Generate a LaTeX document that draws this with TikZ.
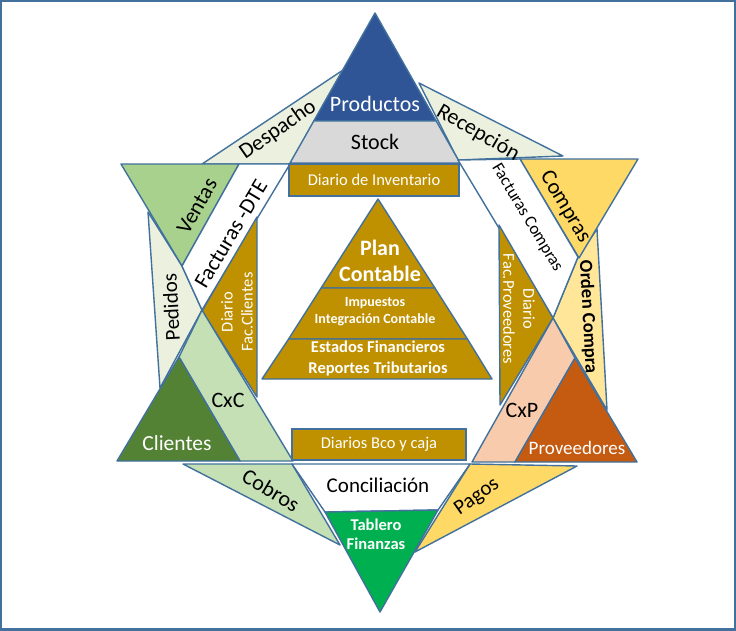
\documentclass[tikz,border=0pt]{standalone}
\usepackage{fontspec}
\setmainfont{Carlito}
\usepackage{xcolor}
\definecolor{edge}{HTML}{41719C}
\definecolor{prodblue}{HTML}{2F5597}
\definecolor{stockgray}{HTML}{D9D9D9}
\definecolor{gold}{HTML}{BF9000}
\definecolor{paleband}{HTML}{EBF1DE}
\definecolor{ventasgreen}{HTML}{A9D18E}
\definecolor{cxcgreen}{HTML}{C5E0B4}
\definecolor{clientgreen}{HTML}{548235}
\definecolor{buyyellow}{HTML}{FFD966}
\definecolor{orderyellow}{HTML}{FFE699}
\definecolor{cxppeach}{HTML}{F8CBAD}
\definecolor{provorange}{HTML}{C55A11}
\definecolor{dashgreen}{HTML}{00B050}

\begin{document}
\begin{tikzpicture}[
    x=1pt, y=-1pt,
    part/.style={draw=edge, line width=1.4pt, line join=round, fill=#1},
    journal/.style={draw=edge, line width=1.4pt, fill=gold, text=white,
                    font=\fontsize{16.5}{20}\selectfont, inner sep=0pt},
    lbl/.style={font=\fontsize{22}{26}\selectfont, inner sep=0pt},
    sublbl/.style={font=\fontsize{16.5}{20}\selectfont, inner sep=0pt, align=center},
    heavy/.style 2 args={font=\fontsize{#1}{#2}\selectfont\bfseries, inner sep=0pt,
                  align=center, text=white}
]
\useasboundingbox (0,0) rectangle (736,630);

% Frame
\fill[white] (0,0) rectangle (736,630);
\draw[edge, line width=4pt] (0,0) rectangle (736,630);

% Top: Productos / Stock
\filldraw[part=paleband] (343,70) -- (202,164) -- (290,164) -- cycle;
\filldraw[part=paleband] (419,83) -- (563,156) -- (458,160) -- cycle;
\filldraw[part=prodblue] (375,13) -- (313.8,121) -- (436.2,121) -- cycle;
\filldraw[part=stockgray] (313.8,121) -- (436.2,121) -- (460,163) -- (290,163) -- cycle;

% Left: Ventas / Clientes
\filldraw[part=paleband] (148,212) -- (160,388) -- (202,310) -- (182,266) -- cycle;
\filldraw[part=ventasgreen] (121,164) -- (239,164) -- (182,266) -- cycle;
\filldraw[part=white] (239,164) -- (290,164) -- (202,310) -- (182,266) -- cycle;
\filldraw[part=gold] (257,217) -- (202,311) -- (257,397) -- cycle;
\filldraw[part=cxcgreen] (202,310) -- (179,357) -- (240,461) -- (293,461) -- cycle;
\filldraw[part=clientgreen] (117,461) -- (240,461) -- (179,357) -- cycle;

% Right: Compras / Proveedores
\filldraw[part=orderyellow] (578,257) -- (597,229) -- (607,410) -- (553,318) -- cycle;
\filldraw[part=buyyellow] (520,159) -- (638,159) -- (579,258) -- cycle;
\filldraw[part=white] (458,160) -- (520,159) -- (578,257) -- (553,318) -- cycle;
\filldraw[part=gold] (499,225) -- (553,318) -- (500,405) -- cycle;
\filldraw[part=cxppeach] (553,318) -- (472,462) -- (515,462) -- (575,358) -- cycle;
\filldraw[part=provorange] (515,462) -- (637,462) -- (575,358) -- cycle;

% Bottom: Tablero Finanzas
\filldraw[part=cxcgreen] (183,464) -- (292,464) -- (340,545) -- cycle;
\filldraw[part=buyyellow] (470,464) -- (577,466) -- (415,552) -- cycle;
\filldraw[part=white] (292,464) -- (470,464) -- (438,510) -- (325,512) -- cycle;
\filldraw[part=dashgreen] (325,512) -- (438,510) -- (380,612) -- cycle;

% Center: Plan Contable
\filldraw[part=gold] (378,199) -- (321.1,288) -- (434.9,288) -- cycle;
\filldraw[part=gold] (321.1,288) -- (434.9,288) -- (467.4,339) -- (288.6,339) -- cycle;
\filldraw[part=gold] (288.6,339) -- (467.4,339) -- (492,379) -- (262,379) -- cycle;

% Journals
\node[journal, minimum width=170pt, minimum height=32pt] (diarioinv) at (374,180) {Diario de Inventario};
\node[journal, minimum width=174pt, minimum height=31pt] (diariobco) at (379,444.5) {Diarios Bco y caja};

% Labels
\node[lbl, text=white] (productos) at (375,104) {Productos};
\node[lbl] (stock) at (375,142) {Stock};
\node[lbl, rotate=35] (despacho) at (278,130) {Despacho};
\node[lbl, rotate=-30] (recepcion) at (478,133) {Recepción};

\node[lbl, rotate=60] (ventas) at (197,206) {Ventas};
\node[lbl, rotate=59] (facturasdte) at (231,234) {Facturas -DTE};
\node[lbl, rotate=93, font=\fontsize{21}{25}\selectfont] (pedidos) at (171,307) {Pedidos};
\node[sublbl, text=white, rotate=90] (diariocli) at (237,312) {Diario\\Fac.Clientes};
\node[lbl] (cxc) at (228,400) {CxC};
\node[lbl, text=white, font=\fontsize{21.5}{25}\selectfont] (clientes) at (177,443) {Clientes};

\node[lbl, rotate=-59] (compras) at (565,207) {Compras};
\node[sublbl, rotate=-59, font=\fontsize{17}{20}\selectfont] (factcompras) at (527,218) {Facturas Compras};
\node[lbl, rotate=-87, font=\fontsize{18.6}{22}\selectfont\bfseries] (ordencompra) at (588,317) {Orden Compra};
\node[sublbl, text=white, rotate=-90] (diarioprov) at (519,309) {Diario\\Fac.Proveedores};
\node[lbl] (cxp) at (522,410) {CxP};
\node[lbl, text=white, font=\fontsize{19}{23}\selectfont] (proveedores) at (577,448) {Proveedores};

\node[lbl, rotate=-31] (cobros) at (271,490) {Cobros};
\node[lbl, font=\fontsize{21}{25}\selectfont] (conciliacion) at (378,485) {Conciliación};
\node[lbl, rotate=35, font=\fontsize{21}{25}\selectfont] (pagos) at (477,497) {Pagos};
\node[heavy={16.5}{19}] (tablero) at (376,534) {Tablero\\Finanzas};

\node[heavy={22}{26}] (plan) at (380,261) {Plan\\Contable};
\node[heavy={14}{17}] (impuestos) at (375,312) {Impuestos\\Integración Contable};
\node[heavy={16.5}{21}] (estados) at (378,358) {Estados Financieros\\Reportes Tributarios};

\end{tikzpicture}
\end{document}
